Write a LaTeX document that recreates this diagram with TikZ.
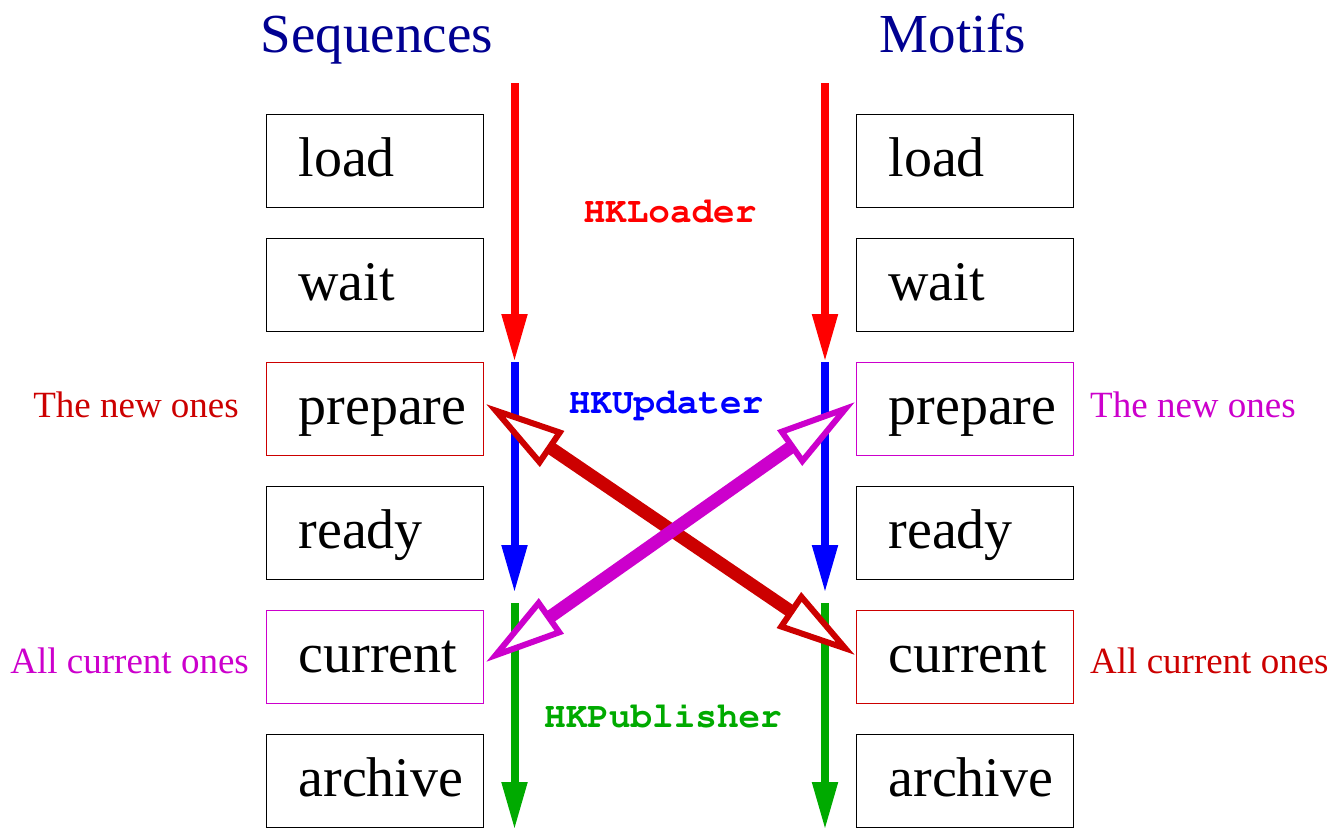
\documentclass[tikz,border=0pt]{standalone}
\usepackage[T1]{fontenc}
\usepackage{fontspec}
\setmainfont{Liberation Serif}
\setmonofont{Liberation Mono}
\usetikzlibrary{arrows.meta}
\definecolor{ttl}{RGB}{0,0,145}
\definecolor{dred}{RGB}{204,0,0}
\definecolor{mag}{RGB}{204,0,204}
\definecolor{grn}{RGB}{0,170,0}
\newcommand{\courierbold}{\fontencoding{T1}\fontfamily{pcr}\fontseries{b}\fontshape{n}\fontsize{36}{40}\selectfont}
\begin{document}
\begin{tikzpicture}[x=1pt,y=-1pt,
  box/.style={draw=black,line width=1pt,anchor=west,minimum width=217pt,minimum height=93pt,
    inner xsep=32pt,text width=153pt,align=left,text height=40pt,text depth=9pt,
    font=\fontsize{56}{60}\selectfont},
  ttlstyle/.style={anchor=base,text=ttl,inner sep=0pt,font=\fontsize{55}{60}\selectfont},
  side/.style={inner sep=0pt,font=\fontsize{37}{40}\selectfont},
  prog/.style={anchor=base,inner sep=0pt,font=\courierbold},
  flow/.style={line width=8pt,-{Triangle[length=48pt,width=24pt]}},
  cross/.style={line width=13pt,{Triangle[open,fill=white,length=80pt,width=42pt,line width=6pt]}-{Triangle[open,fill=white,length=80pt,width=42pt,line width=6pt]}}
]
\useasboundingbox (0,0) rectangle (1330,830);
% titles
\node[ttlstyle] (tseq) at (377,52) {Sequences};
\node[ttlstyle] (tmot) at (953,52) {Motifs};
% left boxes
\node[box] (lload) at (266,160.5) {load};
\node[box] (lwait) at (266,284.5) {wait};
\node[box,draw=dred] (lprep) at (266,408.5) {prepare};
\node[box] (lready) at (266,532.5) {ready};
\node[box,draw=mag] (lcur) at (266,656.5) {current};
\node[box] (larch) at (266,780.5) {archive};
% right boxes
\node[box] (rload) at (856,160.5) {load};
\node[box] (rwait) at (856,284.5) {wait};
\node[box,draw=mag] (rprep) at (856,408.5) {prepare};
\node[box] (rready) at (856,532.5) {ready};
\node[box,draw=dred] (rcur) at (856,656.5) {current};
\node[box] (rarch) at (856,780.5) {archive};
% side labels
\node[side,text=dred,anchor=base east] (lnew) at (239,417) {The new ones};
\node[side,text=mag,anchor=base east] (lall) at (249,673) {All current ones};
\node[side,text=mag,anchor=base west] (rnew) at (1090,417) {The new ones};
\node[side,text=dred,anchor=base west] (rall) at (1090,673) {All current ones};
% program labels
\node[prog,text=red] (hkl) at (670,222) {HKLoader};
\node[prog,text=blue] (hku) at (666,413) {HKUpdater};
\node[prog,text=grn] (hkp) at (663,727) {HKPublisher};
% flow coordinates
\coordinate (la) at (514.5,83);
\coordinate (lb) at (514.5,362);
\coordinate (lc) at (514.5,593);
\coordinate (ld) at (514.5,603);
\coordinate (le) at (514.5,830);
\coordinate (ra) at (825,83);
\coordinate (rb) at (825,362);
\coordinate (rc) at (825,593);
\coordinate (rd) at (825,603);
\coordinate (re) at (825,830);
\draw[flow,red] (la) -- (lb);
\draw[flow,blue] (lb) -- (lc);
\draw[flow,grn] (ld) -- (le);
\draw[flow,red] (ra) -- (rb);
\draw[flow,blue] (rb) -- (rc);
\draw[flow,grn] (rd) -- (re);
% cross arrows
\coordinate (pl) at (486,404);
\coordinate (cr) at (855,655);
\coordinate (cl) at (486,662);
\coordinate (pr) at (855,402);
\draw[cross,dred] (pl) -- (cr);
\draw[cross,mag] (cl) -- (pr);
\end{tikzpicture}
\end{document}
